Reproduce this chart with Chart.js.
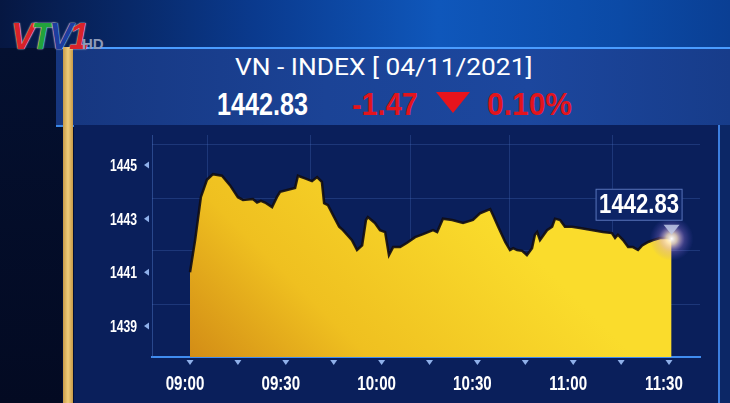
<!DOCTYPE html>
<html>
<head>
<meta charset="utf-8">
<script src="https://cdn.jsdelivr.net/npm/chart.js@4.4.0/dist/chart.umd.min.js"></script>
<style>
  html, body { margin: 0; padding: 0; }
  body { width: 730px; height: 403px; overflow: hidden; background: #040f33; position: relative;
         font-family: Roboto, "Liberation Sans", sans-serif; }
  .abs { position: absolute; white-space: nowrap; }
  #sky { left: 0; top: 0; width: 730px; height: 48px;
         background: linear-gradient(90deg, #061742 0%, #0a3a8e 35%, #0f57bb 60%, #0b4aa6 85%, #0a3f94 100%); }
  #leftcol { left: 0; top: 48px; width: 62px; height: 355px;
         background: linear-gradient(180deg, #041030 0%, #030a22 100%); }
  #band { left: 56px; top: 47px; width: 674px; height: 76px;
         background: linear-gradient(90deg, #16367f 0%, #1b4396 40%, #1c479e 70%, #173c8a 100%);
         border-top: 2px solid #4a9cff; border-bottom: 2px solid #3a86e6; }
  #gold { left: 63px; top: 47px; width: 10px; height: 356px;
         background: linear-gradient(90deg, #c89a48, #efcc7a 50%, #c89a48); }
  #panel { left: 74px; top: 125px; width: 646px; height: 278px; background: #0a1f5b; }
  #rightstrip { left: 718px; top: 125px; width: 12px; height: 278px; background: #0c2766;
         border-left: 2px solid #3c7fe0; }
  #title { left: 235px; top: 55px; color: #fff; font-size: 24px; line-height: 24px; transform-origin: 0 0; }
  .big { top: 89px; font-family: "Liberation Sans", Arial, sans-serif; font-weight: bold;
         font-size: 31px; line-height: 31px; transform-origin: 0 0; }
  #price { left: 217px; color: #fff; }
  #chg { left: 352px; color: #e3141c; }
  #pct { left: 487px; color: #e3141c; }
  #tri { left: 436px; top: 92px; width: 0; height: 0;
         border-left: 17px solid transparent; border-right: 17px solid transparent;
         border-top: 21px solid #e8141c; }
  #logo { left: 11px; top: 17px; font-size: 36px; line-height: 40px; font-weight: bold; font-style: italic;
          letter-spacing: -4px; font-family: "Liberation Sans", Arial, sans-serif;
          text-shadow: 0 0 1px #fff, 0 0 2px rgba(255,255,255,0.6); }
  #hd { left: 82px; top: 36px; font-size: 15px; line-height: 15px; color: #8e9bb8; font-weight: bold;
        font-family: "Liberation Sans", Arial, sans-serif; }
  #chartWrap { left: 80px; top: 128px; width: 640px; height: 275px; }
</style>
</head>
<body>
<div id="sky" class="abs"></div>
<div id="leftcol" class="abs"></div>
<div id="band" class="abs"></div>
<div id="panel" class="abs"></div>
<div id="rightstrip" class="abs"></div>
<div id="gold" class="abs"></div>
<div id="logo" class="abs"><span style="color:#d8232a">V</span><span style="color:#22a23c">T</span><span style="color:#1d3d9e">V</span><span style="color:#d8232a">1</span></div>
<div id="hd" class="abs">HD</div>
<div id="title" class="abs" data-w="297">VN - INDEX [ 04/11/2021]</div>
<div id="price" class="abs big" data-w="91">1442.83</div>
<div id="chg" class="abs big" data-w="66">-1.47</div>
<div id="tri" class="abs"></div>
<div id="pct" class="abs big" data-w="85">0.10%</div>
<div id="chartWrap" class="abs"><canvas id="chart" width="640" height="275"></canvas></div>

<script>
// minutes after 09:00
var times = [0, 1.6, 3.4, 5.3, 7.2, 10, 12.5, 15, 16.6, 19.7, 21, 22.2, 23.5, 25.7, 27.2, 28.2, 32.9, 33.8, 36, 38.2,
    39.8, 41.3, 42, 43.2, 44.8, 46.7, 47.9, 50.7, 52.3, 53.9, 55.1, 55.7, 57.9, 59.5, 61.1, 62.3, 63.6, 65.8, 68, 70.5,
    73, 76.1, 77.4, 79.2, 82.1, 85.5, 88.6, 90.8, 94, 94.9, 96.5, 98.7, 100.2, 101.2, 102.4, 104, 105.5, 107.1, 108, 108.7,
    109.6, 111.8, 113.4, 114.3, 115.9, 117.4, 119.6, 122.1, 126.2, 129.3, 132.1, 133.1, 134, 135.6, 137.2, 138.7, 140.3,
    141.6, 143.5, 145, 147.2, 149.7, 150.8];
var values = [1441.0, 1442.2, 1443.8, 1444.45, 1444.66, 1444.6, 1444.25, 1443.8, 1443.7, 1443.73, 1443.6, 1443.66, 1443.6,
    1443.43, 1443.8, 1444.0, 1444.14, 1444.6, 1444.5, 1444.4, 1444.55, 1444.37, 1443.58, 1443.5, 1443.13, 1442.7, 1442.57,
    1442.2, 1441.83, 1442.0, 1442.95, 1443.06, 1442.84, 1442.57, 1442.5, 1441.64, 1441.94, 1441.94, 1442.1, 1442.31,
    1442.42, 1442.57, 1442.5, 1443.0, 1442.95, 1442.84, 1442.95, 1443.2, 1443.36, 1443.13, 1442.7, 1442.13, 1441.83,
    1441.9, 1441.83, 1441.8, 1441.64, 1441.9, 1442.4, 1442.5, 1442.2, 1442.57, 1442.7, 1443.0, 1442.95, 1442.7, 1442.7,
    1442.65, 1442.57, 1442.5, 1442.46, 1442.28, 1442.4, 1442.2, 1441.94, 1441.94, 1441.83, 1442.0, 1442.13, 1442.2,
    1442.28, 1442.28, 1442.25];
var xTicks = [0, 15, 30, 45, 60, 75, 90, 105, 120, 135, 150];
var xLabels = [0, 30, 60, 90, 120, 150];
var yTicks = [1439, 1441, 1443, 1445];
var yGrid = [1439.81, 1441.83, 1443.77, 1445.75];
var xGrid = [5.6, 37.6, 68.9, 100.2, 132.2];
var lastValue = 1442.83;

var yMin = 1437.84, yMax = 1446.12, xMin = -11.9, xMax = 159.7;

// squeeze header texts to the narrow widths of the broadcast font
document.querySelectorAll('[data-w]').forEach(function(el) {
    el.style.transform = 'scaleX(' + (el.dataset.w / el.offsetWidth) + ')';
});

function timeLabel(m) {
    var h = 9 + Math.floor(m / 60), mm = m % 60;
    return (h < 10 ? '0' : '') + h + ':' + (mm < 10 ? '0' : '') + mm;
}

function narrowText(ctx, text, x, y, sx, align) {
    ctx.save();
    ctx.translate(x, y);
    ctx.scale(sx, 1);
    ctx.textAlign = align;
    ctx.fillText(text, 0, 0);
    ctx.restore();
}

var extras = {
    id: 'extras',
    afterDatasetsDraw: function(chart) {
        var ctx = chart.ctx, x = chart.scales.x, y = chart.scales.y, area = chart.chartArea;
        ctx.save();
        // tick markers
        ctx.fillStyle = '#8fb0ea';
        xTicks.forEach(function(t) {
            var px = x.getPixelForValue(t), py = area.bottom + 3;
            ctx.beginPath(); ctx.moveTo(px - 3.5, py); ctx.lineTo(px + 3.5, py); ctx.lineTo(px, py + 5); ctx.fill();
        });
        yTicks.forEach(function(t) {
            var py = y.getPixelForValue(t), px = area.left - 3;
            ctx.beginPath(); ctx.moveTo(px, py - 3.5); ctx.lineTo(px, py + 3.5); ctx.lineTo(px - 5, py); ctx.fill();
        });
        // tick labels, condensed
        ctx.fillStyle = '#ffffff';
        ctx.textBaseline = 'alphabetic';
        ctx.font = 'bold 16px "Liberation Sans", Arial, sans-serif';
        yTicks.forEach(function(t) {
            narrowText(ctx, String(t), area.left - 15, y.getPixelForValue(t) + 6, 0.76, 'right');
        });
        ctx.font = 'bold 21px "Liberation Sans", Arial, sans-serif';
        xLabels.forEach(function(t) {
            narrowText(ctx, timeLabel(t), x.getPixelForValue(t) - 5, area.bottom + 33, 0.72, 'center');
        });
        // last point glow + label
        var n = times.length - 1;
        var lx = x.getPixelForValue(times[n]), ly = y.getPixelForValue(values[n]);
        var g = ctx.createRadialGradient(lx, ly, 0, lx, ly, 22);
        g.addColorStop(0, 'rgba(255,255,255,1)');
        g.addColorStop(0.25, 'rgba(255,230,200,0.8)');
        g.addColorStop(0.6, 'rgba(200,150,255,0.25)');
        g.addColorStop(1, 'rgba(120,100,255,0)');
        ctx.fillStyle = g;
        ctx.beginPath(); ctx.arc(lx, ly, 22, 0, Math.PI * 2); ctx.fill();
        // pointer
        ctx.fillStyle = 'rgba(190,200,230,0.85)';
        ctx.beginPath(); ctx.moveTo(lx - 8, ly - 14); ctx.lineTo(lx + 8, ly - 14); ctx.lineTo(lx, ly - 4); ctx.fill();
        // box
        var bw = 87, bh = 32, bx = lx + 11 - bw, by = ly - 50;
        ctx.fillStyle = '#0d2466';
        ctx.fillRect(bx, by, bw, bh);
        ctx.strokeStyle = 'rgba(120,150,220,0.7)';
        ctx.lineWidth = 1;
        ctx.strokeRect(bx + 0.5, by + 0.5, bw - 1, bh - 1);
        ctx.fillStyle = '#ffffff';
        ctx.font = 'bold 28px "Liberation Sans", Arial, sans-serif';
        ctx.textBaseline = 'middle';
        narrowText(ctx, lastValue.toFixed(2), bx + bw / 2, by + bh / 2 + 1, 0.79, 'center');
        ctx.restore();
    }
};

new Chart('chart', {
    type: 'line',
    data: {
        datasets: [{
            data: times.map(function(t, i) { return { x: t, y: values[i] }; }),
            borderColor: 'rgba(15,12,20,0.9)',
            borderWidth: 2.5,
            pointRadius: 0,
            tension: 0,
            fill: 'start',
            backgroundColor: function(c) {
                var a = c.chart.chartArea;
                if (!a) return '#f2c81e';
                var g = c.chart.ctx.createLinearGradient(a.left + 40, a.bottom, a.left + 260, a.top);
                g.addColorStop(0, '#d38d16');
                g.addColorStop(0.4, '#efc020');
                g.addColorStop(1, '#fadc2c');
                return g;
            }
        }]
    },
    plugins: [extras],
    options: {
        responsive: false,
        animation: false,
        layout: { padding: { top: 7, right: 20, left: 0, bottom: 0 } },
        plugins: { legend: { display: false }, tooltip: { enabled: false } },
        scales: {
            x: {
                type: 'linear', min: xMin, max: xMax,
                afterBuildTicks: function(s) { s.ticks = xTicks.map(function(v) { return { value: v }; }); },
                afterFit: function(s) { s.height = 46; },
                grid: { display: false, drawTicks: false },
                border: { display: true, color: '#3f8cf0', width: 2 },
                ticks: { display: false }
            },
            xg: {
                type: 'linear', position: 'top', min: xMin, max: xMax,
                afterBuildTicks: function(s) { s.ticks = xGrid.map(function(v) { return { value: v }; }); },
                afterFit: function(s) { s.height = 0; },
                grid: { color: 'rgba(80,120,200,0.28)', drawTicks: false },
                border: { display: false },
                ticks: { display: false }
            },
            y: {
                min: yMin, max: yMax,
                afterBuildTicks: function(s) { s.ticks = yTicks.map(function(v) { return { value: v }; }); },
                afterFit: function(s) { s.width = 72; },
                grid: { display: false, drawTicks: false },
                border: { display: true, color: 'rgba(80,120,200,0.45)', width: 1 },
                ticks: { display: false }
            },
            yg: {
                position: 'right', min: yMin, max: yMax,
                afterBuildTicks: function(s) { s.ticks = yGrid.map(function(v) { return { value: v }; }); },
                afterFit: function(s) { s.width = 0; },
                grid: { color: 'rgba(80,120,200,0.28)', drawTicks: false },
                border: { display: false },
                ticks: { display: false }
            }
        }
    }
});
</script>
</body>
</html>
